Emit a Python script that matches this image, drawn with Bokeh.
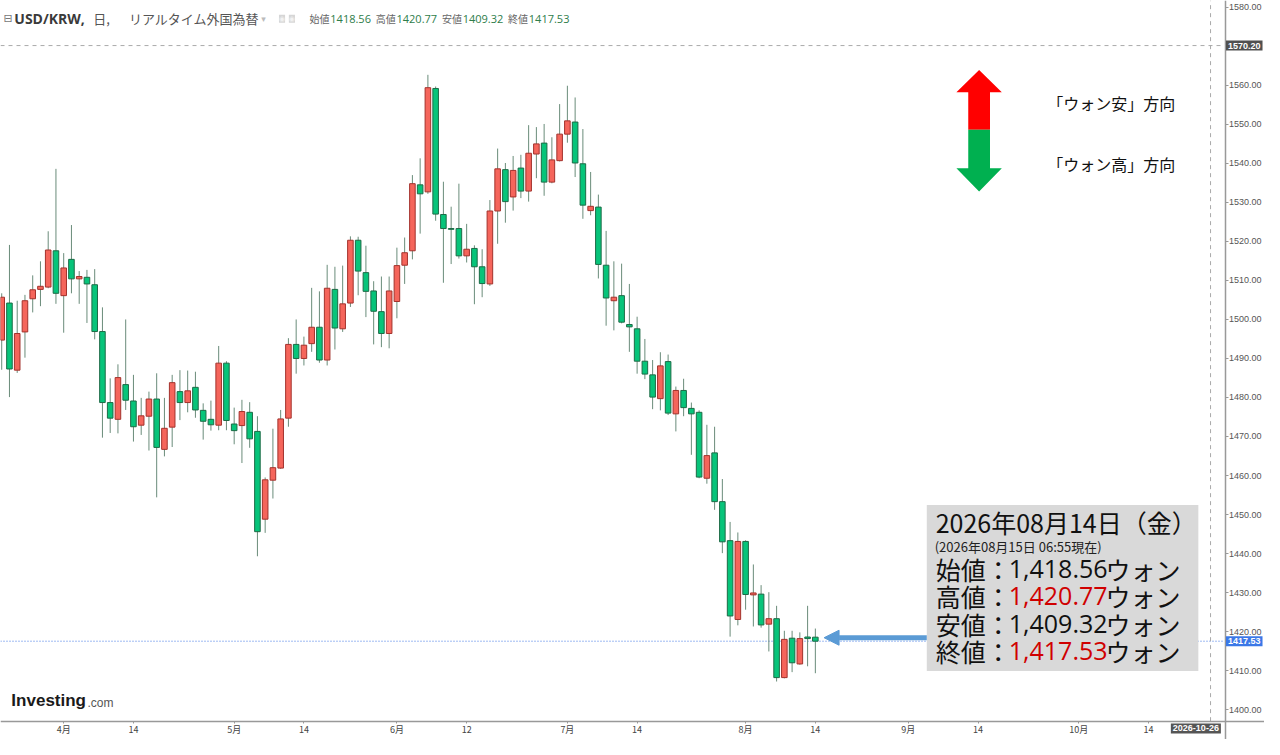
import pandas as pd
from bokeh.plotting import figure
from bokeh.models import (ColumnDataSource, FixedTicker, BoxAnnotation, Label,
                          Arrow, NormalHead, Range1d, PrintfTickFormatter)
from bokeh.embed import file_html
from bokeh.resources import INLINE

# ---------------- data (USD/KRW daily candles) ----------------
first_day = "2026-03-20"
last_day = "2026-08-14"
axis_end_day = "2026-10-30"

opens = [1494.7, 1504.2, 1487.0, 1496.8, 1505.3, 1507.7, 1508.3, 1517.6, 1506.1, 1515.4,
         1510.4, 1510.8, 1508.9, 1496.9, 1478.7, 1474.4, 1483.3, 1479.1, 1472.9, 1475.2,
         1479.6, 1466.7, 1472.4, 1481.5, 1478.7, 1482.6, 1476.7, 1474.4, 1472.9, 1488.8,
         1473.2, 1472.8, 1476.2, 1471.3, 1448.8, 1458.8, 1461.9, 1474.7, 1493.6, 1490.0,
         1493.8, 1498.0, 1489.6, 1507.7, 1497.6, 1504.2, 1520.3, 1512.0, 1507.3, 1502.0,
         1496.4, 1504.6, 1513.9, 1517.6, 1534.5, 1532.7, 1559.2, 1526.9, 1523.3, 1523.3,
         1516.3, 1518.2, 1513.5, 1509.1, 1527.8, 1538.4, 1531.4, 1538.8, 1532.9, 1542.4,
         1545.2, 1535.2, 1540.7, 1547.5, 1550.6, 1539.9, 1527.9, 1528.8, 1513.9, 1504.8,
         1506.1, 1498.7, 1497.6, 1489.3, 1485.8, 1479.7, 1489.2, 1475.8, 1481.8, 1477.2,
         1476.2, 1459.3, 1465.8, 1453.3, 1443.3, 1423.1, 1443.1, 1429.4, 1429.6, 1421.9,
         1423.3, 1408.2, 1418.3, 1411.7, 1418.6, 1418.56]
highs = [1506.7, 1519.1, 1504.8, 1506.3, 1511.3, 1514.9, 1522.6, 1538.6, 1517.0, 1524.2,
         1512.4, 1512.7, 1512.9, 1503.1, 1484.9, 1488.5, 1500.0, 1485.8, 1479.9, 1481.5,
         1486.2, 1479.9, 1485.8, 1487.0, 1486.9, 1486.6, 1478.5, 1479.2, 1493.2, 1489.3,
         1477.4, 1479.4, 1478.8, 1475.2, 1459.5, 1472.0, 1476.8, 1495.2, 1500.0, 1495.6,
         1508.1, 1507.2, 1514.0, 1513.5, 1513.8, 1521.3, 1521.2, 1518.9, 1509.8, 1511.0,
         1511.0, 1518.4, 1521.0, 1537.0, 1541.3, 1562.7, 1559.7, 1535.3, 1528.9, 1534.8,
         1524.5, 1519.0, 1518.0, 1530.6, 1543.8, 1540.1, 1541.9, 1542.2, 1549.8, 1549.3,
         1550.1, 1546.7, 1555.2, 1559.9, 1556.9, 1548.8, 1537.8, 1532.0, 1522.7, 1514.9,
         1514.3, 1509.1, 1500.7, 1495.0, 1489.6, 1491.6, 1491.0, 1482.8, 1484.8, 1478.7,
         1476.7, 1473.0, 1472.5, 1459.1, 1448.1, 1445.4, 1443.4, 1437.2, 1431.9, 1430.1,
         1426.6, 1420.2, 1420.2, 1419.8, 1426.6, 1420.77]
lows = [1487.1, 1480.1, 1486.3, 1490.2, 1501.8, 1503.4, 1508.0, 1504.0, 1496.6, 1506.7,
        1504.0, 1499.1, 1494.9, 1469.7, 1470.9, 1470.8, 1476.8, 1468.7, 1470.4, 1466.4,
        1454.4, 1464.9, 1467.3, 1474.2, 1476.2, 1474.8, 1469.2, 1471.5, 1471.6, 1471.6,
        1468.0, 1463.2, 1467.1, 1439.3, 1445.3, 1454.1, 1461.7, 1472.5, 1486.1, 1488.2,
        1491.7, 1488.9, 1488.2, 1492.3, 1496.8, 1503.2, 1506.2, 1500.6, 1493.6, 1492.9,
        1492.6, 1500.3, 1509.1, 1515.4, 1522.0, 1532.2, 1525.3, 1509.4, 1514.2, 1515.6,
        1514.6, 1503.9, 1505.7, 1508.6, 1519.4, 1524.8, 1527.9, 1531.1, 1530.2, 1536.2,
        1531.7, 1534.9, 1540.5, 1545.3, 1536.5, 1525.8, 1526.7, 1510.5, 1498.4, 1497.2,
        1499.0, 1491.7, 1486.1, 1484.7, 1477.0, 1476.7, 1475.5, 1471.3, 1475.2, 1465.3,
        1459.3, 1457.9, 1451.2, 1440.1, 1418.7, 1421.6, 1425.6, 1421.3, 1421.0, 1414.9,
        1407.2, 1408.0, 1409.6, 1411.5, 1411.1, 1409.32]
closes = [1505.7, 1487.3, 1496.4, 1504.8, 1507.6, 1508.5, 1517.8, 1506.7, 1513.2, 1510.4,
          1511.0, 1509.1, 1496.9, 1478.7, 1474.7, 1485.1, 1479.3, 1472.5, 1475.3, 1479.6,
          1467.2, 1472.1, 1483.8, 1478.7, 1481.7, 1476.8, 1473.9, 1473.0, 1488.8, 1474.1,
          1471.5, 1476.4, 1469.4, 1445.6, 1458.9, 1462.0, 1474.5, 1493.6, 1490.0, 1493.4,
          1498.0, 1489.6, 1508.0, 1497.8, 1504.0, 1520.3, 1512.4, 1507.2, 1502.1, 1496.4,
          1507.3, 1513.8, 1517.1, 1534.8, 1532.2, 1559.4, 1527.0, 1523.3, 1523.1, 1516.3,
          1518.0, 1513.5, 1509.2, 1527.8, 1538.6, 1530.2, 1538.2, 1532.9, 1542.6, 1545.0,
          1535.2, 1540.9, 1547.5, 1550.9, 1540.1, 1529.3, 1529.0, 1514.1, 1505.5, 1505.7,
          1499.3, 1498.1, 1489.3, 1486.0, 1480.1, 1488.1, 1476.0, 1481.8, 1477.4, 1475.8,
          1459.6, 1465.1, 1453.3, 1443.0, 1424.0, 1443.1, 1429.5, 1429.9, 1421.7, 1423.3,
          1408.2, 1418.0, 1412.0, 1418.2, 1418.2, 1417.53]

tick_days = ["2026-04-01", "2026-04-14", "2026-05-01", "2026-05-14", "2026-06-01", "2026-06-12",
             "2026-07-01", "2026-07-14", "2026-08-03", "2026-08-14", "2026-09-01", "2026-09-14",
             "2026-10-01", "2026-10-14"]
tick_labels = ["4月", "14", "5月", "14", "6月", "12", "7月", "14", "8月", "14", "9月", "14", "10月", "14"]
price_ticks = [1400, 1410, 1420, 1430, 1440, 1450, 1460, 1470, 1480, 1490,
               1500, 1510, 1520, 1530, 1540, 1550, 1560, 1570, 1580]

cursor_day = "2026-10-26"
cursor_price = 1570.20
last_close = 1417.53

header_names = ["始値", "高値", "安値", "終値"]
header_values = ["1418.56", "1420.77", "1409.32", "1417.53"]
box_title = "2026年08月14日（金）"
box_sub = "(2026年08月15日 06:55現在)"
box_names = ["始値：", "高値：", "安値：", "終値："]
box_values = ["1,418.56", "1,420.77", "1,409.32", "1,417.53"]
box_value_red = [False, True, False, True]
box_unit = "ウォン"
dir_texts = ["「ウォン安」方向", "「ウォン高」方向"]

# ---------------- calendar positions ----------------
calendar = [d.strftime("%Y-%m-%d") for d in pd.bdate_range(first_day, axis_end_day)]
cal_pos = {d: i for i, d in enumerate(calendar)}
candle_days = [d.strftime("%Y-%m-%d") for d in pd.bdate_range(first_day, last_day)]
xs = [cal_pos[d] for d in candle_days]


# helpers: reference-pixel layout -> data coordinates (for decorations only)
def X(px):
    return cal_pos["2026-04-01"] + (px - 64) / 7.847


def Y(py):
    return 1400 + (729 - py) / 4.044


JP = "Noto Sans CJK JP"
UP_FILL, UP_LINE = "#f5655b", "#a3322c"
DN_FILL, DN_LINE = "#07c47a", "#1d6b46"

up = [c >= o for o, c in zip(opens, closes)]
src = ColumnDataSource(dict(
    x=xs, high=highs, low=lows,
    top=[max(o, c) for o, c in zip(opens, closes)],
    bottom=[min(o, c) for o, c in zip(opens, closes)],
    fill=[UP_FILL if u else DN_FILL for u in up],
    line=[UP_LINE if u else DN_LINE for u in up],
))

W, H = 1264, 739
p = figure(width=W, height=H, output_backend="svg", toolbar_location=None,
           x_range=Range1d(X(0), X(1280)), y_range=Range1d(Y(760), Y(-6)),
           y_axis_location="right", min_border=0)
p.background_fill_color = "white"
p.border_fill_color = "white"
p.outline_line_color = None
p.xgrid.visible = False
p.ygrid.visible = False

# y axis (right), fixed at the chart's right edge
p.yaxis.fixed_location = X(1240)
p.yaxis.ticker = FixedTicker(ticks=price_ticks)
p.yaxis.formatter = PrintfTickFormatter(format="%.2f")
p.yaxis.major_label_text_font = "Liberation Sans"
p.yaxis.major_label_text_font_size = "9px"
p.yaxis.major_label_text_color = "#555555"
p.yaxis.major_label_standoff = 1
p.yaxis.axis_line_color = "#999999"
p.yaxis.axis_line_width = 1.5
p.yaxis.major_tick_line_color = "#999999"
p.yaxis.major_tick_out = 3
p.yaxis.major_tick_in = 0
p.yaxis.minor_tick_line_color = None

# x axis, fixed at the chart's bottom edge
tick_pos = [cal_pos[d] for d in tick_days]
p.xaxis.fixed_location = Y(741)
p.xaxis.ticker = FixedTicker(ticks=tick_pos)
p.xaxis.major_label_overrides = {t: lab for t, lab in zip(tick_pos, tick_labels)}
p.xaxis.major_label_text_font = JP
p.xaxis.major_label_text_font_size = "9px"
p.xaxis.major_label_text_color = "#444444"
p.xaxis.major_label_standoff = 0
p.xaxis.axis_line_color = "#999999"
p.xaxis.axis_line_width = 1.5
p.xaxis.major_tick_line_color = "#999999"
p.xaxis.major_tick_out = 2
p.xaxis.major_tick_in = 0
p.xaxis.minor_tick_line_color = None

# reference lines (stop at the axes)
p.segment(x0=X(0), x1=X(1239), y0=last_close, y1=last_close, line_color="#3d74e6",
          line_dash="1 2", line_width=1)
p.segment(x0=X(0), x1=X(1239), y0=cursor_price, y1=cursor_price, line_color="#aaaaaa",
          line_dash="4 4", line_width=1)
p.segment(x0=cal_pos[cursor_day], x1=cal_pos[cursor_day], y0=Y(741), y1=Y(-6),
          line_color="#aaaaaa", line_dash="4 4", line_width=1)

# candles
p.segment(x0="x", y0="low", x1="x", y1="high", source=src, line_color="#6a8c7a", line_width=1)
p.vbar(x="x", width=0.72, top="top", bottom="bottom", source=src,
       fill_color="fill", line_color="line", line_width=1)

# direction arrows (decoration)
red_px = [(991, 66), (1014, 89), (1002, 89), (1002, 128), (980, 128), (980, 89), (968, 89)]
grn_px = [(980, 128), (1002, 128), (1002, 168), (1014, 168), (991, 192), (968, 168), (980, 168)]
p.patch([X(a) for a, b in red_px], [Y(b) for a, b in red_px], fill_color="#ff0000", line_color=None)
p.patch([X(a) for a, b in grn_px], [Y(b) for a, b in grn_px], fill_color="#00b050", line_color=None)
for t, py in zip(dir_texts, [100, 163]):
    p.add_layout(Label(x=X(1060), y=Y(py), text=t, text_font=JP, text_font_size="16px",
                       text_color="#111111", text_baseline="middle", text_align="left"))

# info box
p.add_layout(BoxAnnotation(left=X(938), right=X(1213), bottom=Y(689), top=Y(517),
                           fill_color="#d9d9d9", fill_alpha=1.0, line_color=None))
p.add_layout(Label(x=X(947), y=Y(535), text=box_title, text_font=JP, text_font_size="25px",
                   text_color="#111111", text_baseline="middle"))
p.add_layout(Label(x=X(946), y=Y(560), text=box_sub, text_font=JP, text_font_size="13px",
                   text_color="#222222", text_baseline="middle"))
for k in range(4):
    py = [583, 611, 640, 668][k]
    p.add_layout(Label(x=X(947), y=Y(py), text=box_names[k], text_font=JP, text_font_size="25px",
                       text_color="#111111", text_baseline="middle"))
    p.add_layout(Label(x=X(1021), y=Y(py), text=box_values[k], text_font="Open Sans",
                       text_font_size="25px", text_baseline="middle",
                       text_color="#d00000" if box_value_red[k] else "#111111"))
    p.add_layout(Label(x=X(1119), y=Y(py), text=box_unit, text_font=JP, text_font_size="25px",
                       text_color="#111111", text_baseline="middle"))

# blue pointer arrow
BLUE = "#5b9bd5"
p.add_layout(Arrow(end=NormalHead(size=15, fill_color=BLUE, line_color=BLUE),
                   x_start=X(938), y_start=Y(654.5), x_end=X(834), y_end=Y(654.5),
                   line_color=BLUE, line_width=5))

# header
hy = Y(13)
p.add_layout(Label(x=X(3), y=hy, text="⊟", text_font="DejaVu Sans", text_font_size="11px",
                   text_color="#777777", text_baseline="middle"))
p.add_layout(Label(x=X(14), y=hy, text="USD/KRW,", text_font="Open Sans", text_font_style="bold",
                   text_font_size="14px", text_color="#3a3a3a", text_baseline="middle"))
p.add_layout(Label(x=X(94), y=hy, text="日,", text_font=JP, text_font_size="13px",
                   text_color="#555555", text_baseline="middle"))
p.add_layout(Label(x=X(130), y=hy, text="リアルタイム外国為替", text_font=JP, text_font_size="13px",
                   text_color="#555555", text_baseline="middle"))
p.add_layout(Label(x=X(264), y=hy, text="▾", text_font="DejaVu Sans", text_font_size="9px",
                   text_color="#bbbbbb", text_baseline="middle"))
for ix in [282, 292]:
    p.add_layout(Label(x=X(ix), y=hy, text="◉", text_font="DejaVu Sans", text_font_size="7px",
                       text_color="#f2f2f2", background_fill_color="#d6d6d6",
                       text_baseline="middle"))
for k in range(4):
    x0 = 313 + 67 * k
    p.add_layout(Label(x=X(x0), y=hy, text=header_names[k], text_font=JP, text_font_size="10px",
                       text_color="#666666", text_baseline="middle"))
    p.add_layout(Label(x=X(x0 + 21), y=hy, text=header_values[k], text_font="Open Sans",
                       text_font_size="11px", text_color="#2e7d4a", text_baseline="middle"))

# price / date tags on the axes
p.add_layout(Label(x=X(1241), y=last_close, text="1417.53", text_font="Liberation Sans",
                   text_font_style="bold", text_font_size="9px", text_color="white",
                   background_fill_color="#3b78e7", text_baseline="middle", padding=2))
p.add_layout(Label(x=X(1241), y=cursor_price, text="1570.20", text_font="Liberation Sans",
                   text_font_style="bold", text_font_size="9px", text_color="white",
                   background_fill_color="#505050", text_baseline="middle", padding=2))
p.add_layout(Label(x=X(1210.5), y=Y(748.5), text=cursor_day, text_font="Liberation Sans",
                   text_font_style="bold", text_font_size="9px", text_color="white",
                   background_fill_color="#555555", text_baseline="middle", text_align="center",
                   padding=2))

# logo
p.add_layout(Label(x=X(11), y=Y(720), text="Investing", text_font="Liberation Sans",
                   text_font_style="bold", text_font_size="17px", text_color="#1a1a1a",
                   text_baseline="middle"))
p.add_layout(Label(x=X(88), y=Y(722), text=".com", text_font="Liberation Sans",
                   text_font_size="12px", text_color="#555555", text_baseline="middle"))

open("out.html", "w").write(file_html(p, INLINE))
